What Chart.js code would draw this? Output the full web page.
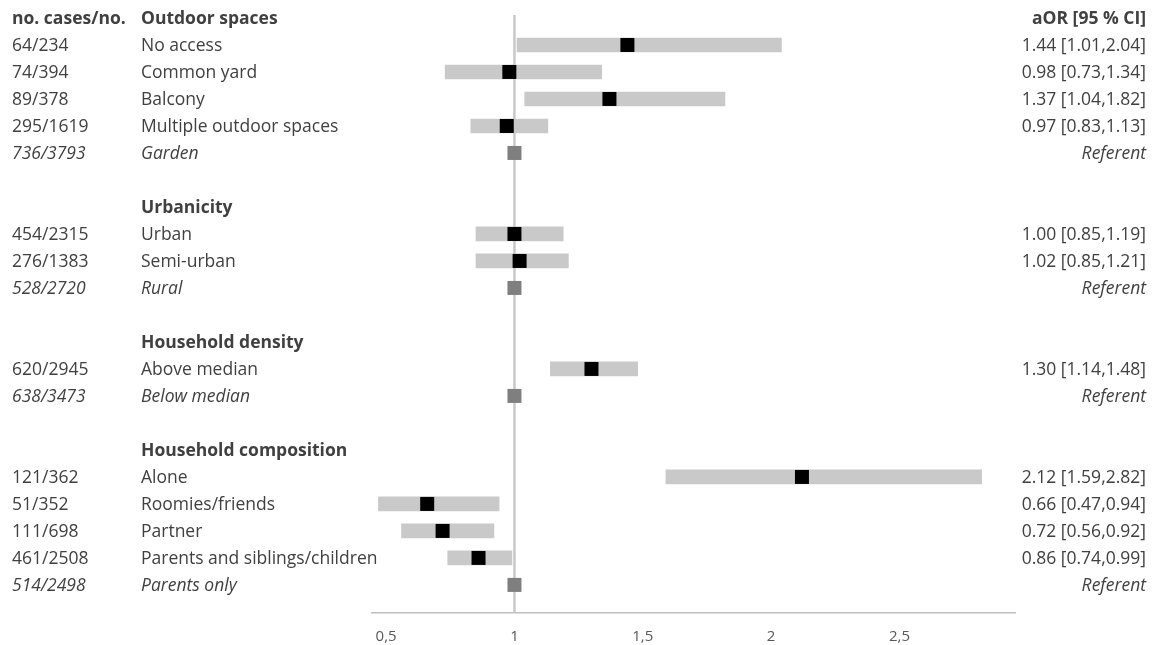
<!DOCTYPE html>
<html>
<head>
<meta charset="utf-8">
<script src="https://cdn.jsdelivr.net/npm/chart.js@4"></script>
<style>
  html, body { margin: 0; padding: 0; background: #ffffff; }
  #wrap { width: 1160px; height: 645px; position: relative; }
</style>
</head>
<body>
<div id="wrap"><canvas id="forest"></canvas></div>
<script>
// rows top to bottom; '' = empty cell
const rowKind = ['head', 'est', 'est', 'est', 'est', 'ref', 'blank',
                 'head', 'est', 'est', 'ref', 'blank',
                 'head', 'est', 'ref', 'blank',
                 'head', 'est', 'est', 'est', 'est', 'ref'];

const rowCases = ['no. cases/no.', '64/234', '74/394', '89/378', '295/1619', '736/3793', '',
                  '', '454/2315', '276/1383', '528/2720', '',
                  '', '620/2945', '638/3473', '',
                  '', '121/362', '51/352', '111/698', '461/2508', '514/2498'];

const rowLabels = ['Outdoor spaces', 'No access', 'Common yard', 'Balcony', 'Multiple outdoor spaces', 'Garden', '',
                   'Urbanicity', 'Urban', 'Semi-urban', 'Rural', '',
                   'Household density', 'Above median', 'Below median', '',
                   'Household composition', 'Alone', 'Roomies/friends', 'Partner', 'Parents and siblings/children', 'Parents only'];

const aor    = [null, 1.44, 0.98, 1.37, 0.97, 1, null, null, 1.00, 1.02, 1, null, null, 1.30, 1, null, null, 2.12, 0.66, 0.72, 0.86, 1];
const ciLow  = [null, 1.01, 0.73, 1.04, 0.83, null, null, null, 0.85, 0.85, null, null, null, 1.14, null, null, null, 1.59, 0.47, 0.56, 0.74, null];
const ciHigh = [null, 2.04, 1.34, 1.82, 1.13, null, null, null, 1.19, 1.21, null, null, null, 1.48, null, null, null, 2.82, 0.94, 0.92, 0.99, null];

const xTicks = [0.5, 1, 1.5, 2, 2.5];

const FONT = "'Open Sans', sans-serif";
const TEXT = '#404040';

const ciData = [], estData = [], refData = [];
rowKind.forEach( function ( kind, i ) {
    if ( kind === 'est' ) {
        ciData.push( { x: [ ciLow[i], ciHigh[i] ], y: i } );
        estData.push( { x: aor[i], y: i } );
    }
    if ( kind === 'ref' ) {
        refData.push( { x: aor[i], y: i } );
    }
} );

function rightText( i ) {
    if ( rowKind[i] === 'ref' ) return 'Referent';
    if ( rowKind[i] === 'est' ) {
        return aor[i].toFixed( 2 ) + ' [' + ciLow[i].toFixed( 2 ) + ',' + ciHigh[i].toFixed( 2 ) + ']';
    }
    return i === 0 ? 'aOR [95 % CI]' : '';
}

// reference line at aOR = 1, under the marks
const refLine = {
    id: 'refLine',
    beforeDatasetsDraw: function ( chart ) {
        const ctx = chart.ctx;
        const x = chart.scales.x.getPixelForValue( 1 );
        ctx.save();
        ctx.strokeStyle = '#c8c8c8';
        ctx.lineWidth = 2.5;
        ctx.beginPath();
        ctx.moveTo( x, chart.chartArea.top );
        ctx.lineTo( x, chart.chartArea.bottom );
        ctx.stroke();
        ctx.restore();
    }
};

// the three text columns
const tableText = {
    id: 'tableText',
    afterDraw: function ( chart ) {
        const ctx = chart.ctx;
        const yScale = chart.scales.y;
        ctx.save();
        ctx.fillStyle = TEXT;
        ctx.textBaseline = 'middle';
        rowKind.forEach( function ( kind, i ) {
            const y = yScale.getPixelForValue( i ) + 1;
            const bold = kind === 'head';
            const italic = kind === 'ref';
            ctx.font = ( italic ? 'italic ' : '' ) + ( bold ? 'bold ' : '' ) + '17.5px ' + FONT;
            ctx.textAlign = 'left';
            if ( rowCases[i] ) ctx.fillText( rowCases[i], 12, y );
            if ( rowLabels[i] ) ctx.fillText( rowLabels[i], 141, y );
            const r = rightText( i );
            if ( r ) {
                ctx.textAlign = 'right';
                ctx.fillText( r, 1146, y );
            }
        } );
        ctx.restore();
    }
};

new Chart( document.getElementById( 'forest' ).getContext( '2d' ), {
    type: 'bar',
    data: {
        datasets: [
            {
                type: 'scatter',
                data: estData,
                pointStyle: 'rect',
                pointRadius: 9.9,
                pointHoverRadius: 9.9,
                backgroundColor: '#000000',
                borderWidth: 0,
                order: 1
            },
            {
                type: 'scatter',
                data: refData,
                pointStyle: 'rect',
                pointRadius: 9.9,
                pointHoverRadius: 9.9,
                backgroundColor: '#7f7f7f',
                borderWidth: 0,
                order: 2
            },
            {
                type: 'bar',
                data: ciData,
                backgroundColor: '#c9c9c9',
                barThickness: 14,
                borderSkipped: false,
                order: 3
            }
        ]
    },
    options: {
        indexAxis: 'y',
        responsive: true,
        maintainAspectRatio: false,
        animation: false,
        layout: {
            padding: { left: 372, right: 145, top: 15, bottom: 0 }
        },
        scales: {
            x: {
                type: 'linear',
                min: 0.445,
                max: 2.95,
                grid: { display: false },
                border: { display: true, color: '#bfbfbf', width: 1.5 },
                afterBuildTicks: function ( scale ) {
                    scale.ticks = xTicks.map( function ( v ) { return { value: v }; } );
                },
                afterFit: function ( scale ) {
                    scale.height = 32;
                },
                ticks: {
                    padding: 7,
                    color: '#595959',
                    font: { family: FONT, size: 15 },
                    callback: function ( v ) { return String( v ).replace( '.', ',' ); }
                }
            },
            y: {
                type: 'linear',
                reverse: true,
                offset: false,
                grace: 0,
                min: -0.11,
                max: 22.04,
                display: false
            }
        },
        plugins: {
            legend: { display: false },
            tooltip: { enabled: false }
        }
    },
    plugins: [ refLine, tableText ]
} );
</script>
</body>
</html>
